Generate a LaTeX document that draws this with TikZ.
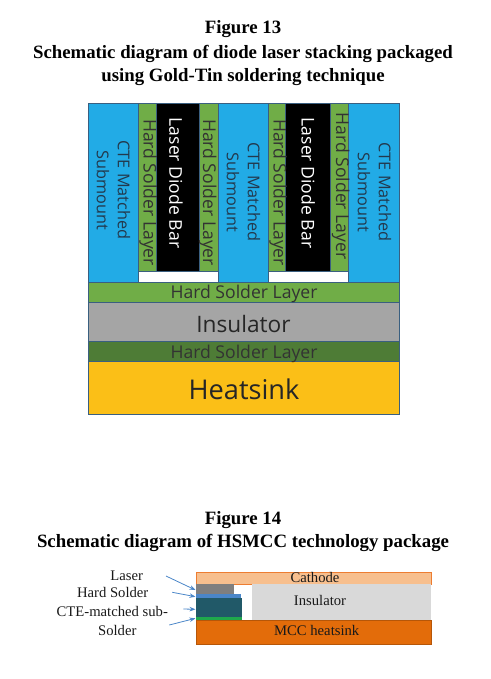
\documentclass[tikz,border=0pt]{standalone}
\usepackage{fontspec}
\setmainfont{Liberation Serif}
\newfontfamily\labelfont{Open Sans}
\usetikzlibrary{arrows.meta}
\definecolor{edgeblue}{HTML}{3A5F80}
\definecolor{submblue}{HTML}{22ABE6}
\definecolor{solderlight}{HTML}{70AD47}
\definecolor{solderdark}{HTML}{4E7C36}
\definecolor{insulgray}{HTML}{A5A5A5}
\definecolor{sinkyellow}{HTML}{FBBF17}
\definecolor{cathodefill}{HTML}{F7BF8E}
\definecolor{cathodeedge}{HTML}{ED7D31}
\definecolor{mccorange}{HTML}{E36C0A}
\definecolor{paleinsul}{HTML}{D9D9D9}
\definecolor{lasergray}{HTML}{7F7F7F}
\definecolor{thinblue}{HTML}{4A86C8}
\definecolor{subteal}{HTML}{215968}
\definecolor{thingreen}{HTML}{1FA84C}
\tikzset{
  part/.style={draw=edgeblue, line width=0.6pt},
  vtext/.style={rotate=-90, font=\labelfont\fontsize{13.2}{15.8}\selectfont, align=center, inner sep=0pt},
  subtext/.style={rotate=-90, font=\labelfont\fontsize{12.2}{15.8}\selectfont, align=center, inner sep=0pt},
  htext/.style={font=\labelfont\fontsize{13.2}{15}\selectfont, inner sep=0pt},
  title/.style={font=\bfseries\fontsize{14.1}{16}\selectfont, inner sep=0pt},
  tag/.style={font=\fontsize{11}{13}\selectfont, inner sep=0pt, text=black!90},
  pointer/.style={-{Stealth[scale=0.8]}, draw=thinblue, line width=0.6pt}
}
\begin{document}
\begin{tikzpicture}[x=0.75pt, y=-0.75pt]
        \useasboundingbox (0,0) rectangle (490,679);

        % The titles
        \node[title] (fig13) at (243,29.5) {Figure 13};
        \node[title] (cap13a) at (243,53.5) {Schematic diagram of diode laser stacking packaged};
        \node[title] (cap13b) at (243,77) {using Gold-Tin soldering technique};
        \node[title] (fig14) at (243,520) {Figure 14};
        \node[title] (cap14) at (243,543) {Schematic diagram of HSMCC technology package};

        % The submounts
        \draw[part, fill=submblue] (88,103) rectangle (138.3,282);
        \draw[part, fill=submblue] (218.3,103) rectangle (268.5,282);
        \draw[part, fill=submblue] (348.5,103) rectangle (399,282);
        \node[subtext, text=edgeblue!60!black] (sub1) at (113.5,190) {CTE Matched\\Submount};
        \node[subtext, text=edgeblue!60!black] (sub2) at (243.5,192) {CTE Matched\\Submount};
        \node[subtext, text=edgeblue!60!black] (sub3) at (374.5,192) {CTE Matched\\Submount};

        % The gaps under the bars
        \draw[part, fill=white] (138.3,271.7) rectangle (218.3,282);
        \draw[part, fill=white] (268.5,271.7) rectangle (348.5,282);

        % The solder strips and the bars
        \draw[part, fill=solderlight] (138.3,103) rectangle (156.3,271.7);
        \draw[part, fill=black] (156.3,103) rectangle (199.3,271.7);
        \draw[part, fill=solderlight] (199.3,103) rectangle (218.3,271.7);
        \draw[part, fill=solderlight] (268.5,103) rectangle (285.5,271.7);
        \draw[part, fill=black] (285.5,103) rectangle (330.5,271.7);
        \draw[part, fill=solderlight] (330.5,103) rectangle (348.5,271.7);
        \node[vtext, text=black!80] (hs1) at (148.3,192.5) {Hard Solder Layer};
        \node[vtext, text=white] (bar1) at (176,183) {Laser Diode Bar};
        \node[vtext, text=black!80] (hs2) at (207.7,192.5) {Hard Solder Layer};
        \node[vtext, text=black!80] (hs3) at (278.3,192.5) {Hard Solder Layer};
        \node[vtext, text=white] (bar2) at (308.3,183) {Laser Diode Bar};
        \node[vtext, text=black!80] (hs4) at (340.7,186) {Hard Solder Layer};

        % The base layers
        \draw[part, fill=solderlight] (88,282.7) rectangle (399,302);
        \draw[part, fill=insulgray] (88,302) rectangle (399,341.7);
        \draw[part, fill=solderdark] (88,341.7) rectangle (399,361.7);
        \draw[part, fill=sinkyellow] (88,361.7) rectangle (399,414);
        \node[htext, text=black!80] (hsup) at (244,294) {Hard Solder Layer};
        \node[htext, text=black!85, font=\labelfont\fontsize{17}{20}\selectfont] (ins) at (243.5,323.5) {Insulator};
        \node[htext, text=black!80] (hslow) at (244,353.5) {Hard Solder Layer};
        \node[htext, text=black!85, font=\labelfont\fontsize{20.4}{24}\selectfont] (sink) at (244,389.5) {Heatsink};

        % The HSMCC stack
        \draw[fill=cathodefill, draw=cathodeedge, line width=0.7pt] (196,572.3) rectangle (431,584);
        \fill[paleinsul] (251.7,584) rectangle (431,620);
        \draw[fill=mccorange, draw=mccorange!80!black, line width=0.5pt] (196,620) rectangle (431,644.7);
        \fill[lasergray] (196,584.4) rectangle (234.3,594);
        \fill[thinblue] (196,594) rectangle (241,597.5);
        \fill[subteal] (196,597.5) rectangle (241.7,616.5);
        \fill[thingreen] (196,616.5) rectangle (241.7,620);
        \node[tag] (cath) at (315,577.5) {Cathode};
        \node[tag] (ins2) at (320,600.5) {Insulator};
        \node[tag] (mcc) at (316.7,630.5) {MCC heatsink};

        % The labels on the left
        \node[tag] (tlaser) at (126.7,576.2) {Laser};
        \node[tag] (tsolder) at (112.7,592.2) {Hard Solder};
        \node[tag] (tcte) at (112.3,611.2) {CTE-matched sub-};
        \node[tag] (tbond) at (117.3,630.2) {Solder};

        % The pointers
        \coordinate (a1) at (166,576);
        \coordinate (b1) at (195.5,590);
        \coordinate (a2) at (172.3,592.3);
        \coordinate (b2) at (195.5,596.7);
        \coordinate (a3) at (183.3,609);
        \coordinate (b3) at (195.5,609.3);
        \coordinate (a4) at (169.3,625);
        \coordinate (b4) at (195.5,618.3);
        \draw[pointer] (a1) -- (b1);
        \draw[pointer] (a2) -- (b2);
        \draw[pointer] (a3) -- (b3);
        \draw[pointer] (a4) -- (b4);
\end{tikzpicture}
\end{document}
